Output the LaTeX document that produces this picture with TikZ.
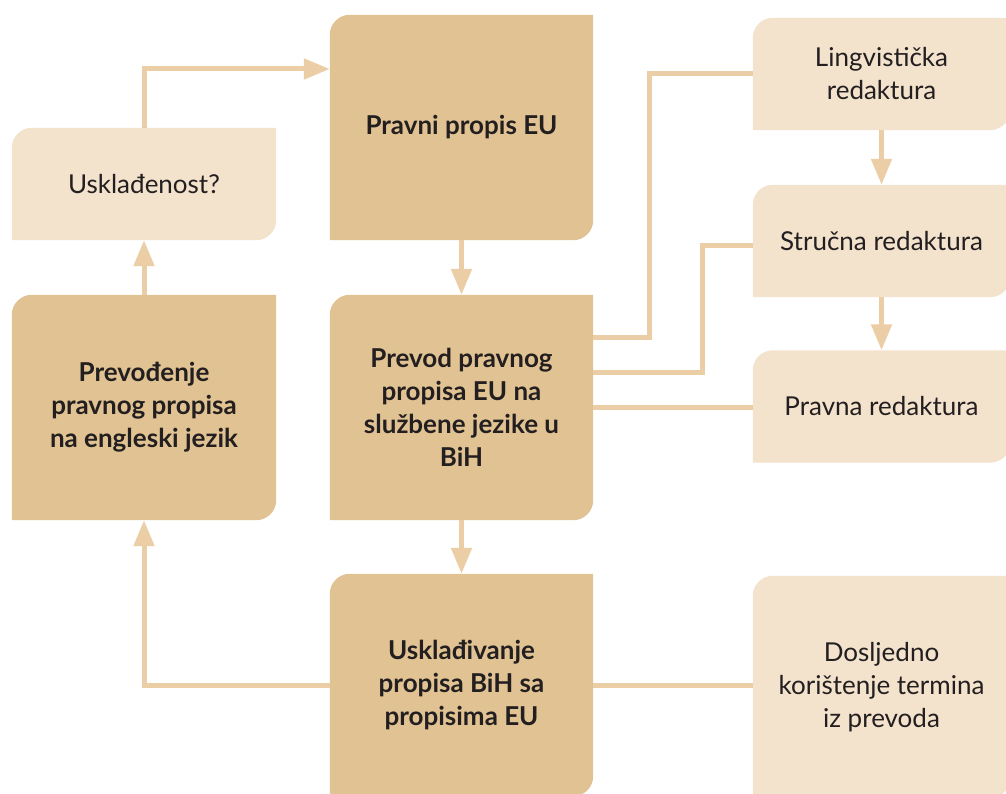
\documentclass[tikz,border=0pt]{standalone}
\usepackage{fontspec}
\setmainfont{Lato}
\usetikzlibrary{arrows.meta,backgrounds}
\definecolor{darkbox}{HTML}{E1C292}
\definecolor{lightbox}{HTML}{F3E2CC}
\definecolor{linkcol}{HTML}{EBCDA6}
\definecolor{inkcol}{HTML}{231F20}
\tikzstyle{dark box}=[
        minimum width = 263pt,
        minimum height = 225pt,
        inner sep = 0pt,
        align = center,
        text = inkcol,
        font = \fontsize{26}{33}\selectfont\bfseries
    ]
\tikzstyle{light box}=[
    minimum width = 257pt,
    minimum height = 112pt,
    inner sep = 0pt,
    align = center,
    text = inkcol,
    font = \fontsize{26}{33}\selectfont
]
\tikzstyle{link}=[draw = linkcol, line width = 5pt]
\tikzstyle{arrow}=[link, -{Triangle[width=20pt,length=26pt]}]

\begin{document}
\begin{tikzpicture}[x=1pt, y=-1pt]
        \clip (0,0) rectangle (1006,794);

        \node[dark box] (1) at (461.5,127.5) {Pravni propis EU};
        \node[dark box] (2) at (461.5,407.5) {Prevod pravnog\\propisa EU na\\službene jezike u\\BiH};
        \node[dark box, minimum height = 222pt] (3) at (461.5,685) {Usklađivanje\\propisa BiH sa\\propisima EU};
        \node[light box, minimum width = 264pt] (4) at (144,184) {Usklađenost?};
        \node[dark box, minimum width = 264pt] (5) at (144,407.5) {Prevođenje\\pravnog propisa\\na engleski jezik};
        \node[light box] (6) at (881.5,74) {Lingvistička\\redaktura};
        \node[light box] (7) at (881.5,241) {Stručna redaktura};
        \node[light box] (8) at (881.5,406.5) {Pravna redaktura};
        \node[light box, minimum height = 222pt] (9) at (881.5,687) {Dosljedno\\korištenje termina\\iz prevoda};

        % box shapes: round top right and bottom left
        \begin{scope}[on background layer]
            \foreach \n/\col in {1/darkbox,2/darkbox,3/darkbox,5/darkbox,4/lightbox,6/lightbox,7/lightbox,8/lightbox,9/lightbox}
                \fill[\col] (\n.north) -- (\n.north east) [rounded corners=20pt] -- (\n.south east) [sharp corners] -- (\n.south west) [rounded corners=20pt] -- (\n.north west) [sharp corners] -- cycle;
        \end{scope}

        \draw[arrow] (4.north) |- ([yshift=58.5pt]1.west);
        \draw[arrow] (1.south) -- (2.north);
        \draw[arrow] (5.north) -- (4.south);
        \draw[arrow] (2.south) -- (3.north);
        \draw[arrow] (3.west) -| (5.south);
        \draw[link] (3.east) -- (3.east -| 9.west);
        \draw[link] ([yshift=70pt]2.east) -- ++(56,0) |- (6.west);
        \draw[link] ([yshift=35.5pt]2.east) -- ++(109,0) |- ([yshift=-5pt]7.west);
        \draw[link] (2.east) -- (2.east -| 8.west);
        \draw[arrow] (6.south) -- (7.north);
        \draw[arrow] (7.south) -- (8.north);

    \end{tikzpicture}
\end{document}
